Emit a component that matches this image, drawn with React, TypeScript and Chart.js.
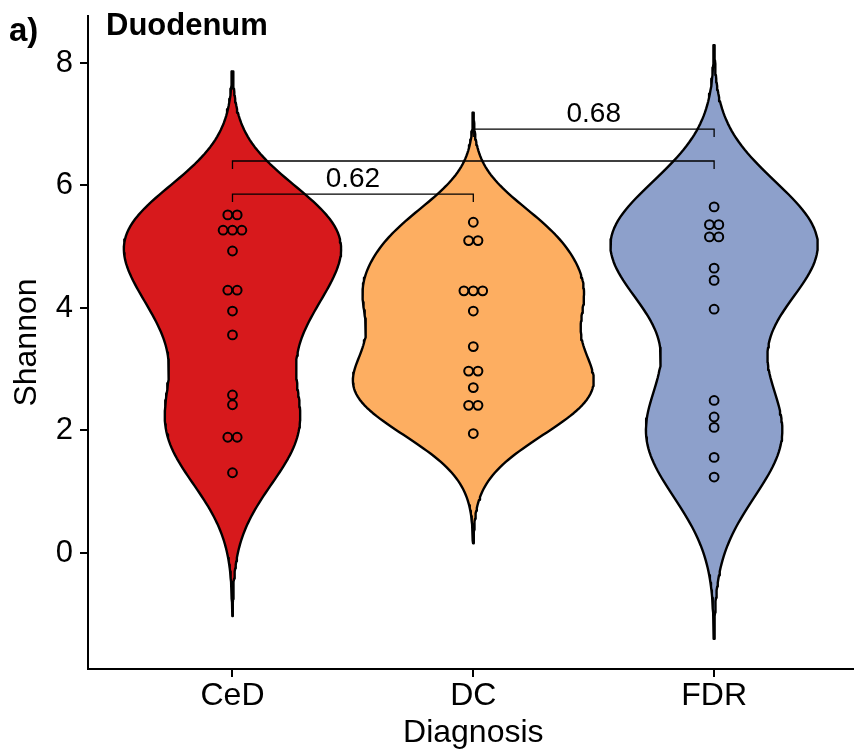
import React, { useEffect, useRef } from "react";
import { Chart, registerables } from "chart.js";

Chart.register(...registerables);

// ---------- data ----------
const categories = ["CeD", "DC", "FDR"];
const fillColors = ["#D7191C", "#FDAE61", "#8DA0CB"];

const cedValues = [5.52, 5.52, 5.27, 5.27, 5.27, 4.93, 4.29, 4.29, 3.95, 3.56, 2.58, 2.42, 1.89, 1.89, 1.31];
const dcValues = [5.4, 5.1, 5.1, 4.28, 4.28, 4.28, 3.95, 3.37, 2.97, 2.97, 2.7, 2.41, 2.41, 1.95];
const fdrValues = [5.65, 5.36, 5.36, 5.16, 5.16, 4.65, 4.45, 3.98, 2.49, 2.22, 2.05, 1.56, 1.24];
const groupValues = [cedValues, dcValues, fdrValues];

const yTicks = [0, 2, 4, 6, 8];

const bracketFrom = ["CeD", "CeD", "DC"];
const bracketTo = ["DC", "FDR", "FDR"];
const bracketY = [5.86, 6.4, 6.92];
const bracketLabels = ["0.62", "", "0.68"];

const titleText = "Duodenum";
const panelTag = "a)";
const xTitle = "Diagnosis";
const yTitle = "Shannon";

// ---------- helpers (styles / stats) ----------
const FONT = "'Liberation Sans', Arial, Helvetica, sans-serif";
const VIOLIN_HALF_WIDTH = 0.5; // x units at global max density
const DOT_SPACING = 0.039; // x units between stacked dots
const BRACKET_TIP = 0.13; // y units

function quantile7(sorted: number[], p: number) {
  const h = (sorted.length - 1) * p;
  const lo = Math.floor(h);
  const hi = Math.ceil(h);
  return sorted[lo] + (h - lo) * (sorted[hi] - sorted[lo]);
}

function bwNrd0(v: number[]) {
  const n = v.length;
  const mean = v.reduce((a, b) => a + b, 0) / n;
  const sd = Math.sqrt(v.reduce((a, b) => a + (b - mean) ** 2, 0) / (n - 1));
  const s = [...v].sort((a, b) => a - b);
  const iqr = quantile7(s, 0.75) - quantile7(s, 0.25);
  const lo = Math.min(sd, iqr / 1.34);
  return 0.9 * lo * Math.pow(n, -0.2);
}

function kde(v: number[], nPts = 160) {
  const bw = bwNrd0(v);
  const min = Math.min(...v) - 3 * bw;
  const max = Math.max(...v) + 3 * bw;
  const out: { y: number; d: number }[] = [];
  const c = 1 / (v.length * bw * Math.sqrt(2 * Math.PI));
  for (let i = 0; i < nPts; i++) {
    const y = min + ((max - min) * i) / (nPts - 1);
    let s = 0;
    for (const x of v) {
      const z = (y - x) / bw;
      s += Math.exp(-0.5 * z * z);
    }
    out.push({ y, d: s * c });
  }
  return out;
}

function catPos(name: string) {
  return categories.indexOf(name) + 1;
}

export default function App() {
  const ref = useRef<HTMLCanvasElement | null>(null);

  useEffect(() => {
    if (!ref.current) return;

    const densities = groupValues.map((v) => kde(v));
    const globalMax = Math.max(...densities.map((d) => Math.max(...d.map((p) => p.d))));

    const violinSets = densities.map((dens, gi) => {
      const cx = gi + 1;
      const right = dens.map((p) => ({ x: cx + (p.d / globalMax) * VIOLIN_HALF_WIDTH, y: p.y }));
      const left = [...dens].reverse().map((p) => ({ x: cx - (p.d / globalMax) * VIOLIN_HALF_WIDTH, y: p.y }));
      const pts = [...right, ...left, right[0]];
      return {
        type: "line" as const,
        label: categories[gi],
        data: pts,
        showLine: true,
        fill: "shape",
        backgroundColor: fillColors[gi],
        borderColor: "#000",
        borderWidth: 2.4,
        borderJoinStyle: "round",
        borderCapStyle: "round",
        pointRadius: 0,
        tension: 0,
        order: 3,
      };
    });

    const dotSets = groupValues.map((vals, gi) => {
      const cx = gi + 1;
      const counts = new Map<number, number>();
      vals.forEach((v) => counts.set(v, (counts.get(v) || 0) + 1));
      const seen = new Map<number, number>();
      const pts = vals.map((v) => {
        const n = counts.get(v) || 1;
        const k = seen.get(v) || 0;
        seen.set(v, k + 1);
        return { x: cx + (k - (n - 1) / 2) * DOT_SPACING, y: v };
      });
      return {
        type: "line" as const,
        label: categories[gi] + " points",
        data: pts,
        showLine: false,
        pointRadius: 4.4,
        pointBorderWidth: 2,
        pointBorderColor: "#000",
        pointBackgroundColor: "rgba(0,0,0,0)",
        order: 2,
      };
    });

    const bracketSets = bracketY.map((yv, i) => {
      const a = catPos(bracketFrom[i]);
      const b = catPos(bracketTo[i]);
      return {
        type: "line" as const,
        label: "bracket " + i,
        data: [
          { x: a, y: yv - BRACKET_TIP },
          { x: a, y: yv },
          { x: b, y: yv },
          { x: b, y: yv - BRACKET_TIP },
        ],
        showLine: true,
        fill: false,
        borderColor: "#000",
        borderWidth: 1.3,
        pointRadius: 0,
        tension: 0,
        order: 1,
      };
    });

    const textPlugin = {
      id: "texts",
      afterDraw(chart: any) {
        const { ctx, scales } = chart;
        const xs = scales.x;
        const ys = scales.y;
        ctx.save();
        ctx.fillStyle = "#000";
        ctx.textAlign = "center";
        ctx.textBaseline = "alphabetic";
        ctx.font = `28px ${FONT}`;
        bracketY.forEach((yv, i) => {
          if (!bracketLabels[i]) return;
          const mid = (catPos(bracketFrom[i]) + catPos(bracketTo[i])) / 2;
          ctx.fillText(bracketLabels[i], xs.getPixelForValue(mid), ys.getPixelForValue(yv) - 7);
        });
        ctx.textAlign = "left";
        ctx.font = `bold 33px ${FONT}`;
        ctx.fillText(panelTag, 9, 41);
        ctx.font = `bold 31px ${FONT}`;
        ctx.fillText(titleText, chart.chartArea.left + 18, 35);
        ctx.restore();
      },
    };

    const chart = new Chart(ref.current, {
      type: "line",
      data: { datasets: [...violinSets, ...dotSets, ...bracketSets] as any },
      options: {
        animation: false,
        responsive: false,
        events: [],
        layout: { padding: { top: 16, left: 0, right: 0, bottom: 0 } },
        plugins: { legend: { display: false }, tooltip: { enabled: false } },
        scales: {
          x: {
            type: "linear",
            min: 0.4,
            max: 3.6,
            afterFit: (s: any) => {
              s.height = 85;
              s.paddingLeft = 0;
              s.paddingRight = 0;
            },
            afterBuildTicks: (s: any) => {
              s.ticks = categories.map((_, i) => ({ value: i + 1 }));
            },
            ticks: {
              callback: (v: any) => categories[Math.round(Number(v)) - 1] ?? "",
              color: "#000",
              font: { family: FONT, size: 32 },
              padding: 0,
              maxRotation: 0,
              autoSkip: false,
            },
            grid: { drawOnChartArea: false, drawTicks: true, tickLength: 8, color: "#000", lineWidth: 2 },
            border: { display: true, color: "#000", width: 2 },
            title: {
              display: true,
              text: xTitle,
              color: "#000",
              font: { family: FONT, size: 32, lineHeight: 1 },
              padding: { top: 0, bottom: 5 },
            },
          },
          y: {
            type: "linear",
            min: -1.894,
            max: 8.767,
            afterFit: (s: any) => {
              s.width = 88;
              s.paddingTop = 0;
              s.paddingBottom = 0;
            },
            afterBuildTicks: (s: any) => {
              s.ticks = yTicks.map((v) => ({ value: v }));
            },
            ticks: {
              color: "#000",
              font: { family: FONT, size: 31 },
              padding: 7,
            },
            grid: { drawOnChartArea: false, drawTicks: true, tickLength: 8, color: "#000", lineWidth: 2 },
            border: { display: true, color: "#000", width: 2 },
            title: {
              display: true,
              text: yTitle,
              color: "#000",
              font: { family: FONT, size: 32, lineHeight: 1 },
              padding: { top: 11, bottom: 0 },
            },
          },
        },
      },
      plugins: [textPlugin],
    });

    return () => chart.destroy();
  }, []);

  return (
    <div style={{ position: "absolute", left: 0, top: 0, width: 854, height: 754, overflow: "hidden", background: "#fff" }}>
      <canvas ref={ref} width={865} height={754} style={{ display: "block" }} />
    </div>
  );
}
